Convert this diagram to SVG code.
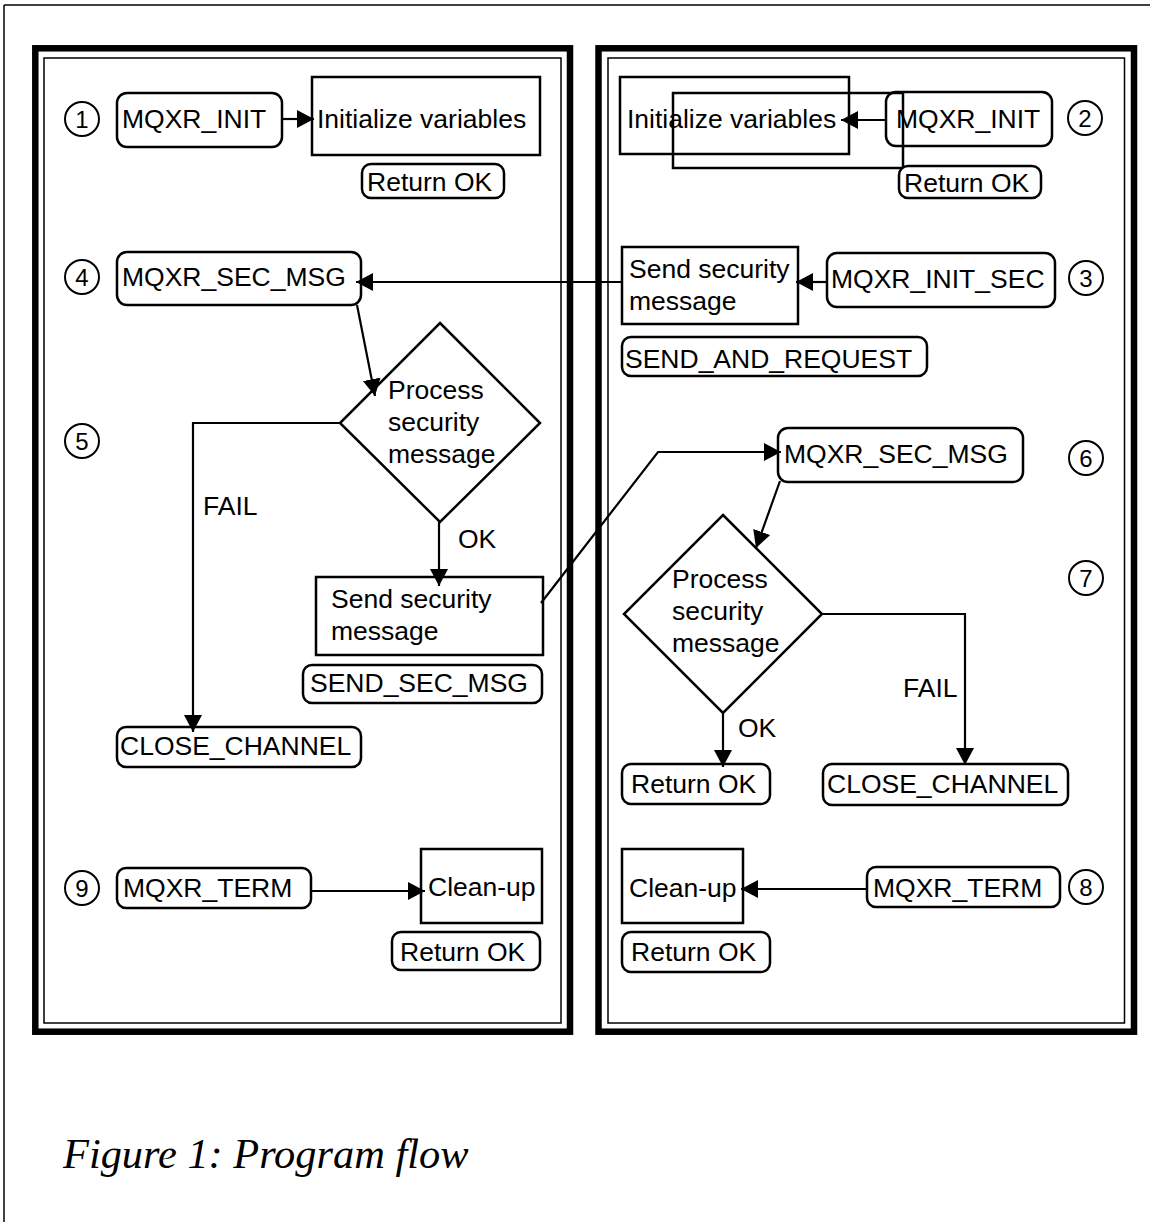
<svg xmlns="http://www.w3.org/2000/svg" width="1150" height="1222" viewBox="0 0 1150 1222">
  <style>
    .t { font-family: "Liberation Sans", Arial, sans-serif; font-size: 26.5px; fill: #000; }
    .n { font-family: "Liberation Sans", Arial, sans-serif; font-size: 24px; fill: #000; text-anchor: middle; }
    .cap { font-family: "Liberation Serif", "Times New Roman", serif; font-style: italic; font-size: 42.4px; fill: #000; }
    .rr { fill: #fff; stroke: #000; stroke-width: 2.5; }
    .bx { fill: none; stroke: #000; stroke-width: 2.5; }
    .dm { fill: none; stroke: #000; stroke-width: 2.5; }
    .num { fill: #fff; stroke: #000; stroke-width: 2; }
    .ln { fill: none; stroke: #000; stroke-width: 2.2; }
    .panel { fill: none; stroke: #000; stroke-width: 6.5; }
    .inner { fill: none; stroke: #000; stroke-width: 1.5; }
  </style>
  <defs>
    <marker id="ah" markerUnits="userSpaceOnUse" markerWidth="20" markerHeight="20" refX="17" refY="9" orient="auto">
      <path d="M0,0 L17,9 L0,18 z" fill="#000"/>
    </marker>
  </defs>

  <rect width="1150" height="1222" fill="#fff"/>

  <!-- page frame -->
  <g id="frame">
    <line x1="4" y1="5" x2="1150" y2="5" stroke="#000" stroke-width="1.5"/>
    <line x1="4" y1="5" x2="4" y2="1222" stroke="#000" stroke-width="1.5"/>
  </g>

  <!-- two panels -->
  <g id="panel-left">
    <rect class="panel" x="35.3" y="48.3" width="534.7" height="983.4"/>
    <rect class="inner" x="44" y="58" width="517" height="965"/>
  </g>
  <g id="panel-right">
    <rect class="panel" x="598.5" y="48.3" width="535.5" height="983.4"/>
    <rect class="inner" x="608" y="58" width="516.5" height="965"/>
  </g>

  <!-- step numbers -->
  <g id="step-numbers">
    <circle class="num" cx="82" cy="119" r="17"/><text class="n" x="82" y="128">1</text>
    <circle class="num" cx="1085" cy="118" r="17"/><text class="n" x="1085" y="127">2</text>
    <circle class="num" cx="1086" cy="278" r="17"/><text class="n" x="1086" y="287">3</text>
    <circle class="num" cx="82" cy="277" r="17"/><text class="n" x="82" y="286">4</text>
    <circle class="num" cx="82" cy="441" r="17"/><text class="n" x="82" y="450">5</text>
    <circle class="num" cx="1086" cy="458" r="17"/><text class="n" x="1086" y="467">6</text>
    <circle class="num" cx="1086" cy="578" r="17"/><text class="n" x="1086" y="587">7</text>
    <circle class="num" cx="1086" cy="887" r="17"/><text class="n" x="1086" y="896">8</text>
    <circle class="num" cx="82" cy="888" r="17"/><text class="n" x="82" y="897">9</text>
  </g>

  <!-- left side nodes -->
  <g id="l-init">
    <rect class="rr" x="117" y="93" width="165" height="54" rx="10"/>
    <text class="t" x="122" y="128">MQXR_INIT</text>
  </g>
  <g id="l-initvars">
    <rect class="bx" x="312" y="77" width="228" height="78"/>
    <text class="t" x="317" y="128">Initialize variables</text>
  </g>
  <g id="l-init-ret">
    <rect class="rr" x="362" y="164" width="142" height="34" rx="9"/>
    <text class="t" x="367" y="191">Return OK</text>
  </g>
  <g id="l-secmsg">
    <rect class="rr" x="117" y="252" width="244" height="53" rx="10"/>
    <text class="t" x="122" y="286">MQXR_SEC_MSG</text>
  </g>
  <g id="l-process">
    <polygon class="dm" points="440,323 540,423 440,522 340,423"/>
    <text class="t" x="388" y="399">Process</text>
    <text class="t" x="388" y="431">security</text>
    <text class="t" x="388" y="463">message</text>
  </g>
  <g id="l-send">
    <rect class="bx" x="316" y="577" width="227" height="78"/>
    <text class="t" x="331" y="608">Send security</text>
    <text class="t" x="331" y="640">message</text>
  </g>
  <g id="l-send-label">
    <rect class="rr" x="303" y="665" width="239" height="38" rx="9"/>
    <text class="t" x="310" y="692">SEND_SEC_MSG</text>
  </g>
  <g id="l-close">
    <rect class="rr" x="117" y="727" width="244" height="40" rx="9"/>
    <text class="t" x="120" y="755">CLOSE_CHANNEL</text>
  </g>
  <g id="l-term">
    <rect class="rr" x="117" y="868" width="194" height="40" rx="9"/>
    <text class="t" x="123" y="897">MQXR_TERM</text>
  </g>
  <g id="l-cleanup">
    <rect class="bx" x="421" y="849" width="121" height="74"/>
    <text class="t" x="428" y="896">Clean-up</text>
  </g>
  <g id="l-term-ret">
    <rect class="rr" x="392" y="932" width="148" height="38" rx="9"/>
    <text class="t" x="400" y="961">Return OK</text>
  </g>

  <!-- right side nodes -->
  <g id="r-initvars">
    <rect class="bx" x="620" y="77" width="229" height="77"/>
    <rect class="bx" x="673" y="93" width="230" height="75"/>
    <text class="t" x="627" y="128">Initialize variables</text>
  </g>
  <g id="r-init">
    <rect class="bx" x="886" y="92" width="166" height="54" rx="10"/>
    <text class="t" x="896" y="128">MQXR_INIT</text>
  </g>
  <g id="r-init-ret">
    <rect class="rr" x="899" y="166" width="142" height="32" rx="9"/>
    <text class="t" x="904" y="192">Return OK</text>
  </g>
  <g id="r-send">
    <rect class="bx" x="622" y="247" width="176" height="77"/>
    <text class="t" x="629" y="278">Send security</text>
    <text class="t" x="629" y="310">message</text>
  </g>
  <g id="r-initsec">
    <rect class="rr" x="827" y="253" width="228" height="54" rx="10"/>
    <text class="t" x="831" y="288">MQXR_INIT_SEC</text>
  </g>
  <g id="r-send-label">
    <rect class="rr" x="622" y="337" width="305" height="39" rx="9"/>
    <text class="t" x="625" y="368">SEND_AND_REQUEST</text>
  </g>
  <g id="r-secmsg">
    <rect class="rr" x="778" y="428" width="245" height="54" rx="10"/>
    <text class="t" x="784" y="463">MQXR_SEC_MSG</text>
  </g>
  <g id="r-process">
    <polygon class="dm" points="723,515 822,614 723,713 624,614"/>
    <text class="t" x="672" y="588">Process</text>
    <text class="t" x="672" y="620">security</text>
    <text class="t" x="672" y="652">message</text>
  </g>
  <g id="r-ok">
    <rect class="rr" x="622" y="764" width="148" height="40" rx="9"/>
    <text class="t" x="631" y="793">Return OK</text>
  </g>
  <g id="r-close">
    <rect class="rr" x="823" y="764" width="245" height="41" rx="9"/>
    <text class="t" x="827" y="793">CLOSE_CHANNEL</text>
  </g>
  <g id="r-cleanup">
    <rect class="bx" x="622" y="849" width="121" height="74"/>
    <text class="t" x="629" y="897">Clean-up</text>
  </g>
  <g id="r-term">
    <rect class="rr" x="867" y="867" width="193" height="40" rx="9"/>
    <text class="t" x="873" y="897">MQXR_TERM</text>
  </g>
  <g id="r-term-ret">
    <rect class="rr" x="622" y="932" width="148" height="40" rx="9"/>
    <text class="t" x="631" y="961">Return OK</text>
  </g>

  <!-- connectors -->
  <g id="connectors">
    <line class="ln" x1="282" y1="119" x2="314" y2="119" marker-end="url(#ah)"/>
    <line class="ln" x1="886" y1="120" x2="841" y2="120" marker-end="url(#ah)"/>
    <line class="ln" x1="827" y1="282" x2="796" y2="282" marker-end="url(#ah)"/>
    <line class="ln" x1="622" y1="282" x2="356" y2="282" marker-end="url(#ah)"/>
    <line class="ln" x1="357" y1="305" x2="375" y2="396" marker-end="url(#ah)"/>
    <polyline class="ln" points="340,423 193,423 193,732" marker-end="url(#ah)"/>
    <line class="ln" x1="439" y1="522" x2="439" y2="586" marker-end="url(#ah)"/>
    <polyline class="ln" points="541,603 658,452 781,452" marker-end="url(#ah)"/>
    <line class="ln" x1="780" y1="481" x2="756" y2="548" marker-end="url(#ah)"/>
    <polyline class="ln" points="822,614 965,614 965,765" marker-end="url(#ah)"/>
    <line class="ln" x1="723" y1="713" x2="723" y2="767" marker-end="url(#ah)"/>
    <line class="ln" x1="311" y1="891" x2="425" y2="891" marker-end="url(#ah)"/>
    <line class="ln" x1="867" y1="889" x2="741" y2="889" marker-end="url(#ah)"/>
    <text class="t" x="203" y="515">FAIL</text>
    <text class="t" x="458" y="548">OK</text>
    <text class="t" x="903" y="697">FAIL</text>
    <text class="t" x="738" y="737">OK</text>
  </g>

  <text class="cap" x="63" y="1168">Figure 1: Program flow</text>
</svg>
